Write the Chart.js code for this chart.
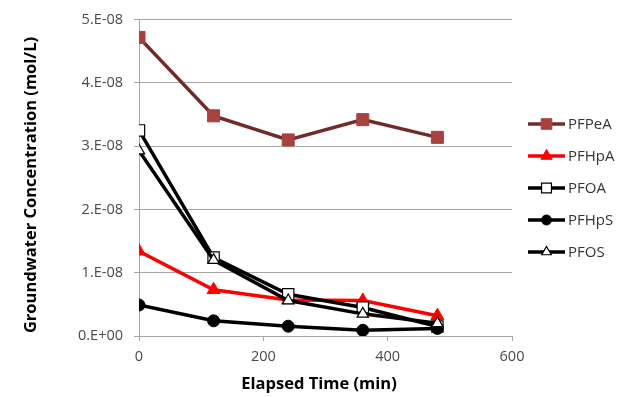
<!DOCTYPE html>
<html>
<head>
<meta charset="utf-8">
<script src="https://cdn.jsdelivr.net/npm/chart.js@4.4.1/dist/chart.umd.min.js"></script>
<style>
    html, body { margin: 0; padding: 0; background: #fff; }
    #wrap { width: 628px; height: 397px; position: relative; }
</style>
</head>
<body>
<div id="wrap"><canvas id="concChart"></canvas></div>
<script>
// elapsed time (min) and groundwater concentration (mol/L)
const times = [0, 120, 240, 360, 480];
const pfpea = [4.72e-8, 3.48e-8, 3.10e-8, 3.42e-8, 3.14e-8];
const pfhpa = [1.34e-8, 0.73e-8, 0.57e-8, 0.56e-8, 0.32e-8];
const pfoa  = [3.25e-8, 1.24e-8, 0.66e-8, 0.45e-8, 0.15e-8];
const pfhps = [0.49e-8, 0.24e-8, 0.155e-8, 0.09e-8, 0.12e-8];
const pfos  = [2.93e-8, 1.20e-8, 0.56e-8, 0.35e-8, 0.20e-8];
const xTicks = [0, 200, 400, 600];
const yTicks = ['0.E+00', '1.E-08', '2.E-08', '3.E-08', '4.E-08', '5.E-08'];

const FONT = '"Open Sans", "DejaVu Sans", sans-serif';
const GRID = '#a6a6a6';

const toPoints = arr => arr.map((v, i) => ({ x: times[i], y: v }));

const series = [
    { label: 'PFPeA', data: pfpea, line: '#722b2a', fill: '#a8423f', border: '#a8423f', style: 'rect', r: 8.5 },
    { label: 'PFHpA', data: pfhpa, line: '#ff0000', fill: '#ff0000', border: '#ff0000', style: 'triangle', r: 7.5 },
    { label: 'PFOA',  data: pfoa,  line: '#000000', fill: '#ffffff', border: '#000000', style: 'rect', r: 8 },
    { label: 'PFHpS', data: pfhps, line: '#000000', fill: '#000000', border: '#000000', style: 'circle', r: 6 },
    { label: 'PFOS',  data: pfos,  line: '#000000', fill: '#ffffff', border: '#000000', style: 'triangle', r: 6.5 },
];

// axis titles + Excel-like legend (line with marker) drawn by hand
const decorations = {
    id: 'decorations',
    afterDraw(chart) {
        const ctx = chart.ctx;
        ctx.save();
        ctx.fillStyle = '#000';
        ctx.font = 'bold 16.5px ' + FONT;
        ctx.textAlign = 'center';
        ctx.textBaseline = 'middle';
        ctx.fillText('Elapsed Time (min)', 319, 384);
        ctx.translate(31, 185);
        ctx.rotate(-Math.PI / 2);
        ctx.fillText('Groundwater Concentration (mol/L)', 0, 0);
        ctx.restore();

        ctx.save();
        ctx.font = '15px ' + FONT;
        ctx.textBaseline = 'middle';
        ctx.textAlign = 'left';
        series.forEach((s, i) => {
            const y = 124 + i * 32;
            ctx.strokeStyle = s.line;
            ctx.lineWidth = 3.5;
            ctx.beginPath();
            ctx.moveTo(528, y);
            ctx.lineTo(565, y);
            ctx.stroke();
            ctx.fillStyle = s.fill;
            ctx.strokeStyle = s.border;
            ctx.lineWidth = s.fill === '#ffffff' ? 1.2 : 1;
            Chart.helpers.drawPoint(ctx, { pointStyle: s.style, radius: s.r - 1, rotation: 0, borderWidth: ctx.lineWidth }, 546.5, y);
            ctx.fillStyle = '#333';
            ctx.fillText(s.label, 568, y + 1);
        });
        ctx.restore();
    }
};

new Chart(document.getElementById('concChart'), {
    type: 'line',
    data: {
        datasets: series.map((s, i) => ({
            label: s.label,
            data: toPoints(s.data),
            borderColor: s.line,
            borderWidth: 3.5,
            pointStyle: s.style,
            pointRadius: s.r,
            pointBackgroundColor: s.fill,
            pointBorderColor: s.border,
            pointBorderWidth: s.fill === '#ffffff' ? 1.2 : 1,
            tension: 0,
            order: series.length - i,
        }))
    },
    options: {
        responsive: true,
        maintainAspectRatio: false,
        animation: false,
        events: [],
        layout: { padding: { top: 13, right: 116, left: 0, bottom: 0 } },
        plugins: { legend: { display: false }, tooltip: { enabled: false } },
        scales: {
            x: {
                type: 'linear',
                min: 0,
                max: 600,
                afterBuildTicks: scale => { scale.ticks = xTicks.map(v => ({ value: v })); },
                afterFit: scale => { scale.height = 61; },
                ticks: { color: '#4a4a4a', font: { family: FONT, size: 14.5 }, padding: 7 },
                grid: { drawOnChartArea: false, color: GRID, tickLength: 5 },
                border: { color: GRID },
            },
            y: {
                min: 0,
                max: 5e-8,
                afterBuildTicks: scale => { scale.ticks = yTicks.map((t, i) => ({ value: i * 1e-8 })); },
                afterFit: scale => { scale.width = 139; },
                ticks: {
                    color: '#4a4a4a',
                    font: { family: FONT, size: 14.5 },
                    padding: 11,
                    callback: (v, i) => yTicks[i],
                },
                grid: { color: GRID, tickLength: 5 },
                border: { color: GRID },
            }
        }
    },
    plugins: [decorations]
});
</script>
</body>
</html>
